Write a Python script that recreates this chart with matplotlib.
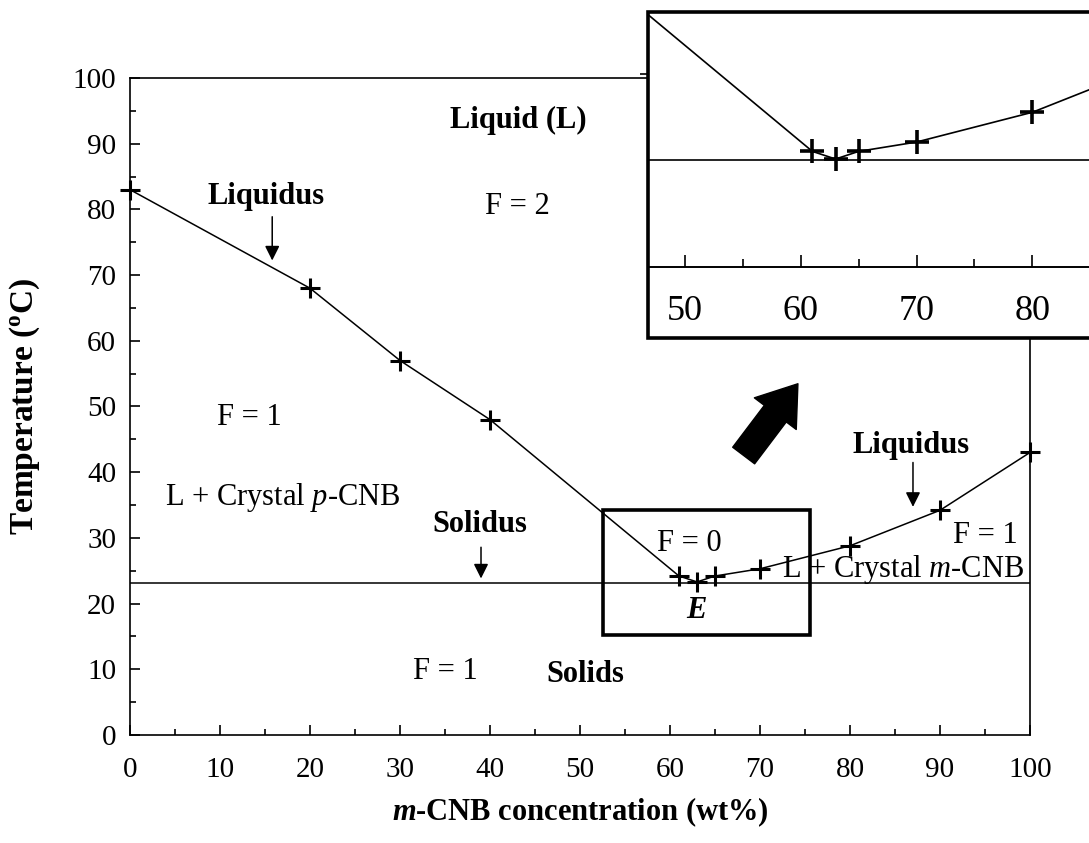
import matplotlib.pyplot as plt
from matplotlib.patches import Rectangle
from matplotlib.ticker import MultipleLocator

plt.rcParams['font.family'] = 'Liberation Serif'
plt.rcParams['mathtext.fontset'] = 'custom'
plt.rcParams['mathtext.rm'] = 'Liberation Serif:bold'
plt.rcParams['mathtext.it'] = 'Liberation Serif:italic'
plt.rcParams['mathtext.bf'] = 'Liberation Serif:bold:italic'

# liquidus data (wt% m-CNB, temperature in C)
conc = [0, 20, 30, 40, 61, 63, 65, 70, 80, 90, 100]
temp = [83, 68, 57, 48, 24.2, 23.3, 24.2, 25.3, 28.8, 34.2, 43]
solidus_t = 23.2

xticks_main = [0, 10, 20, 30, 40, 50, 60, 70, 80, 90, 100]
yticks_main = [0, 10, 20, 30, 40, 50, 60, 70, 80, 90, 100]
xticks_inset = [50, 60, 70, 80]

fig = plt.figure(figsize=(10.89, 8.43), dpi=100)
ax = fig.add_axes([0.1194, 0.1281, 0.8264, 0.7794])

ax.plot(conc, temp, color='black', lw=1.1, marker='+', ms=15, mew=2.2, clip_on=False)
ax.plot([0, 100], [solidus_t, solidus_t], color='black', lw=1.1)
ax.set_xlim(0, 100)
ax.set_ylim(0, 100)
ax.set_xticks(xticks_main)
ax.set_yticks(yticks_main)
ax.xaxis.set_minor_locator(MultipleLocator(5))
ax.yaxis.set_minor_locator(MultipleLocator(5))
ax.tick_params(which='both', direction='in', labelsize=21, width=1.2)
ax.tick_params(which='major', length=7)
ax.tick_params(which='minor', length=4)
ax.tick_params(axis='x', pad=16)
ax.tick_params(axis='y', pad=10)
for s in ax.spines.values():
    s.set_linewidth(1.2)

ax.set_xlabel(r'$\mathbf{m}$-CNB concentration (wt%)', fontsize=22,
              fontweight='bold', labelpad=9)
ax.set_ylabel(r'Temperature ($^{\mathrm{o}}$C)', fontsize=24,
              fontweight='bold', labelpad=22)

fs = 22
ax.text(43.1, 93.6, 'Liquid (L)', fontsize=fs, fontweight='bold', ha='center', va='center')
ax.text(43, 80.4, 'F = 2', fontsize=fs, ha='center', va='center')
ax.text(15.1, 82.0, 'Liquidus', fontsize=fs, fontweight='bold', ha='center', va='center')
ax.text(13.3, 48.4, 'F = 1', fontsize=fs, ha='center', va='center')
ax.text(17, 36.2, 'L + Crystal $p$-CNB', fontsize=fs, ha='center', va='center')
ax.text(38.9, 32.0, 'Solidus', fontsize=fs, fontweight='bold', ha='center', va='center')
ax.text(62.2, 29.2, 'F = 0', fontsize=fs, ha='center', va='center')
ax.text(62.9, 19.0, r'$\mathbf{E}$', fontsize=fs, ha='center', va='center')
ax.text(85.9, 25.2, 'L + Crystal $m$-CNB', fontsize=fs, ha='center', va='center')
ax.text(95.0, 30.4, 'F = 1', fontsize=fs, ha='center', va='center')
ax.text(86.8, 44.1, 'Liquidus', fontsize=fs, fontweight='bold', ha='center', va='center')
ax.text(35.0, 9.6, 'F = 1', fontsize=fs, ha='center', va='center')
ax.text(50.6, 9.2, 'Solids', fontsize=fs, fontweight='bold', ha='center', va='center')

arrow = dict(arrowstyle='-|>', color='black', lw=1.1, mutation_scale=22)
ax.annotate('', xy=(15.8, 71.8), xytext=(15.8, 79.3), arrowprops=arrow)
ax.annotate('', xy=(39.0, 23.4), xytext=(39.0, 29.0), arrowprops=arrow)
ax.annotate('', xy=(87.0, 34.3), xytext=(87.0, 41.9), arrowprops=arrow)

# zoom box and fat arrow
ax.add_patch(Rectangle((52.6, 15.2), 23.0, 19.0, fill=False, lw=2.6, ec='black'))
ax.annotate('', xy=(74.4, 53.8), xytext=(68.0, 42.2),
            arrowprops=dict(arrowstyle='simple,head_length=0.75,head_width=1.05,tail_width=0.55',
                            mutation_scale=36, color='black'))

# inset frame
fig.patches.append(Rectangle((0.595, 0.599), 0.42, 0.387, transform=fig.transFigure,
                             fc='white', ec='black', lw=2.6, zorder=1))

axi = fig.add_axes([0.595, 0.6833, 0.42, 0.3025], zorder=2)
axi.patch.set_alpha(0)
axi.plot(conc, temp, color='black', lw=1.2, marker='+', ms=17, mew=2.6)
axi.plot([0, 100], [solidus_t, solidus_t], color='black', lw=1.2)
axi.set_xlim(46.8, 86.3)
axi.set_ylim(10.6, 40.6)
axi.set_xticks(xticks_inset)
axi.xaxis.set_minor_locator(MultipleLocator(5))
axi.set_yticks([33.3])
axi.set_yticklabels([''])
axi.tick_params(axis='y', direction='out', length=6, width=1.2)
axi.tick_params(axis='x', which='both', direction='in', width=1.2, labelsize=26, pad=20)
axi.tick_params(axis='x', which='major', length=9)
axi.tick_params(axis='x', which='minor', length=6)
for side in ['top', 'left', 'right']:
    axi.spines[side].set_visible(False)
axi.spines['bottom'].set_linewidth(1.4)

fig.savefig('out.png', dpi=100)
